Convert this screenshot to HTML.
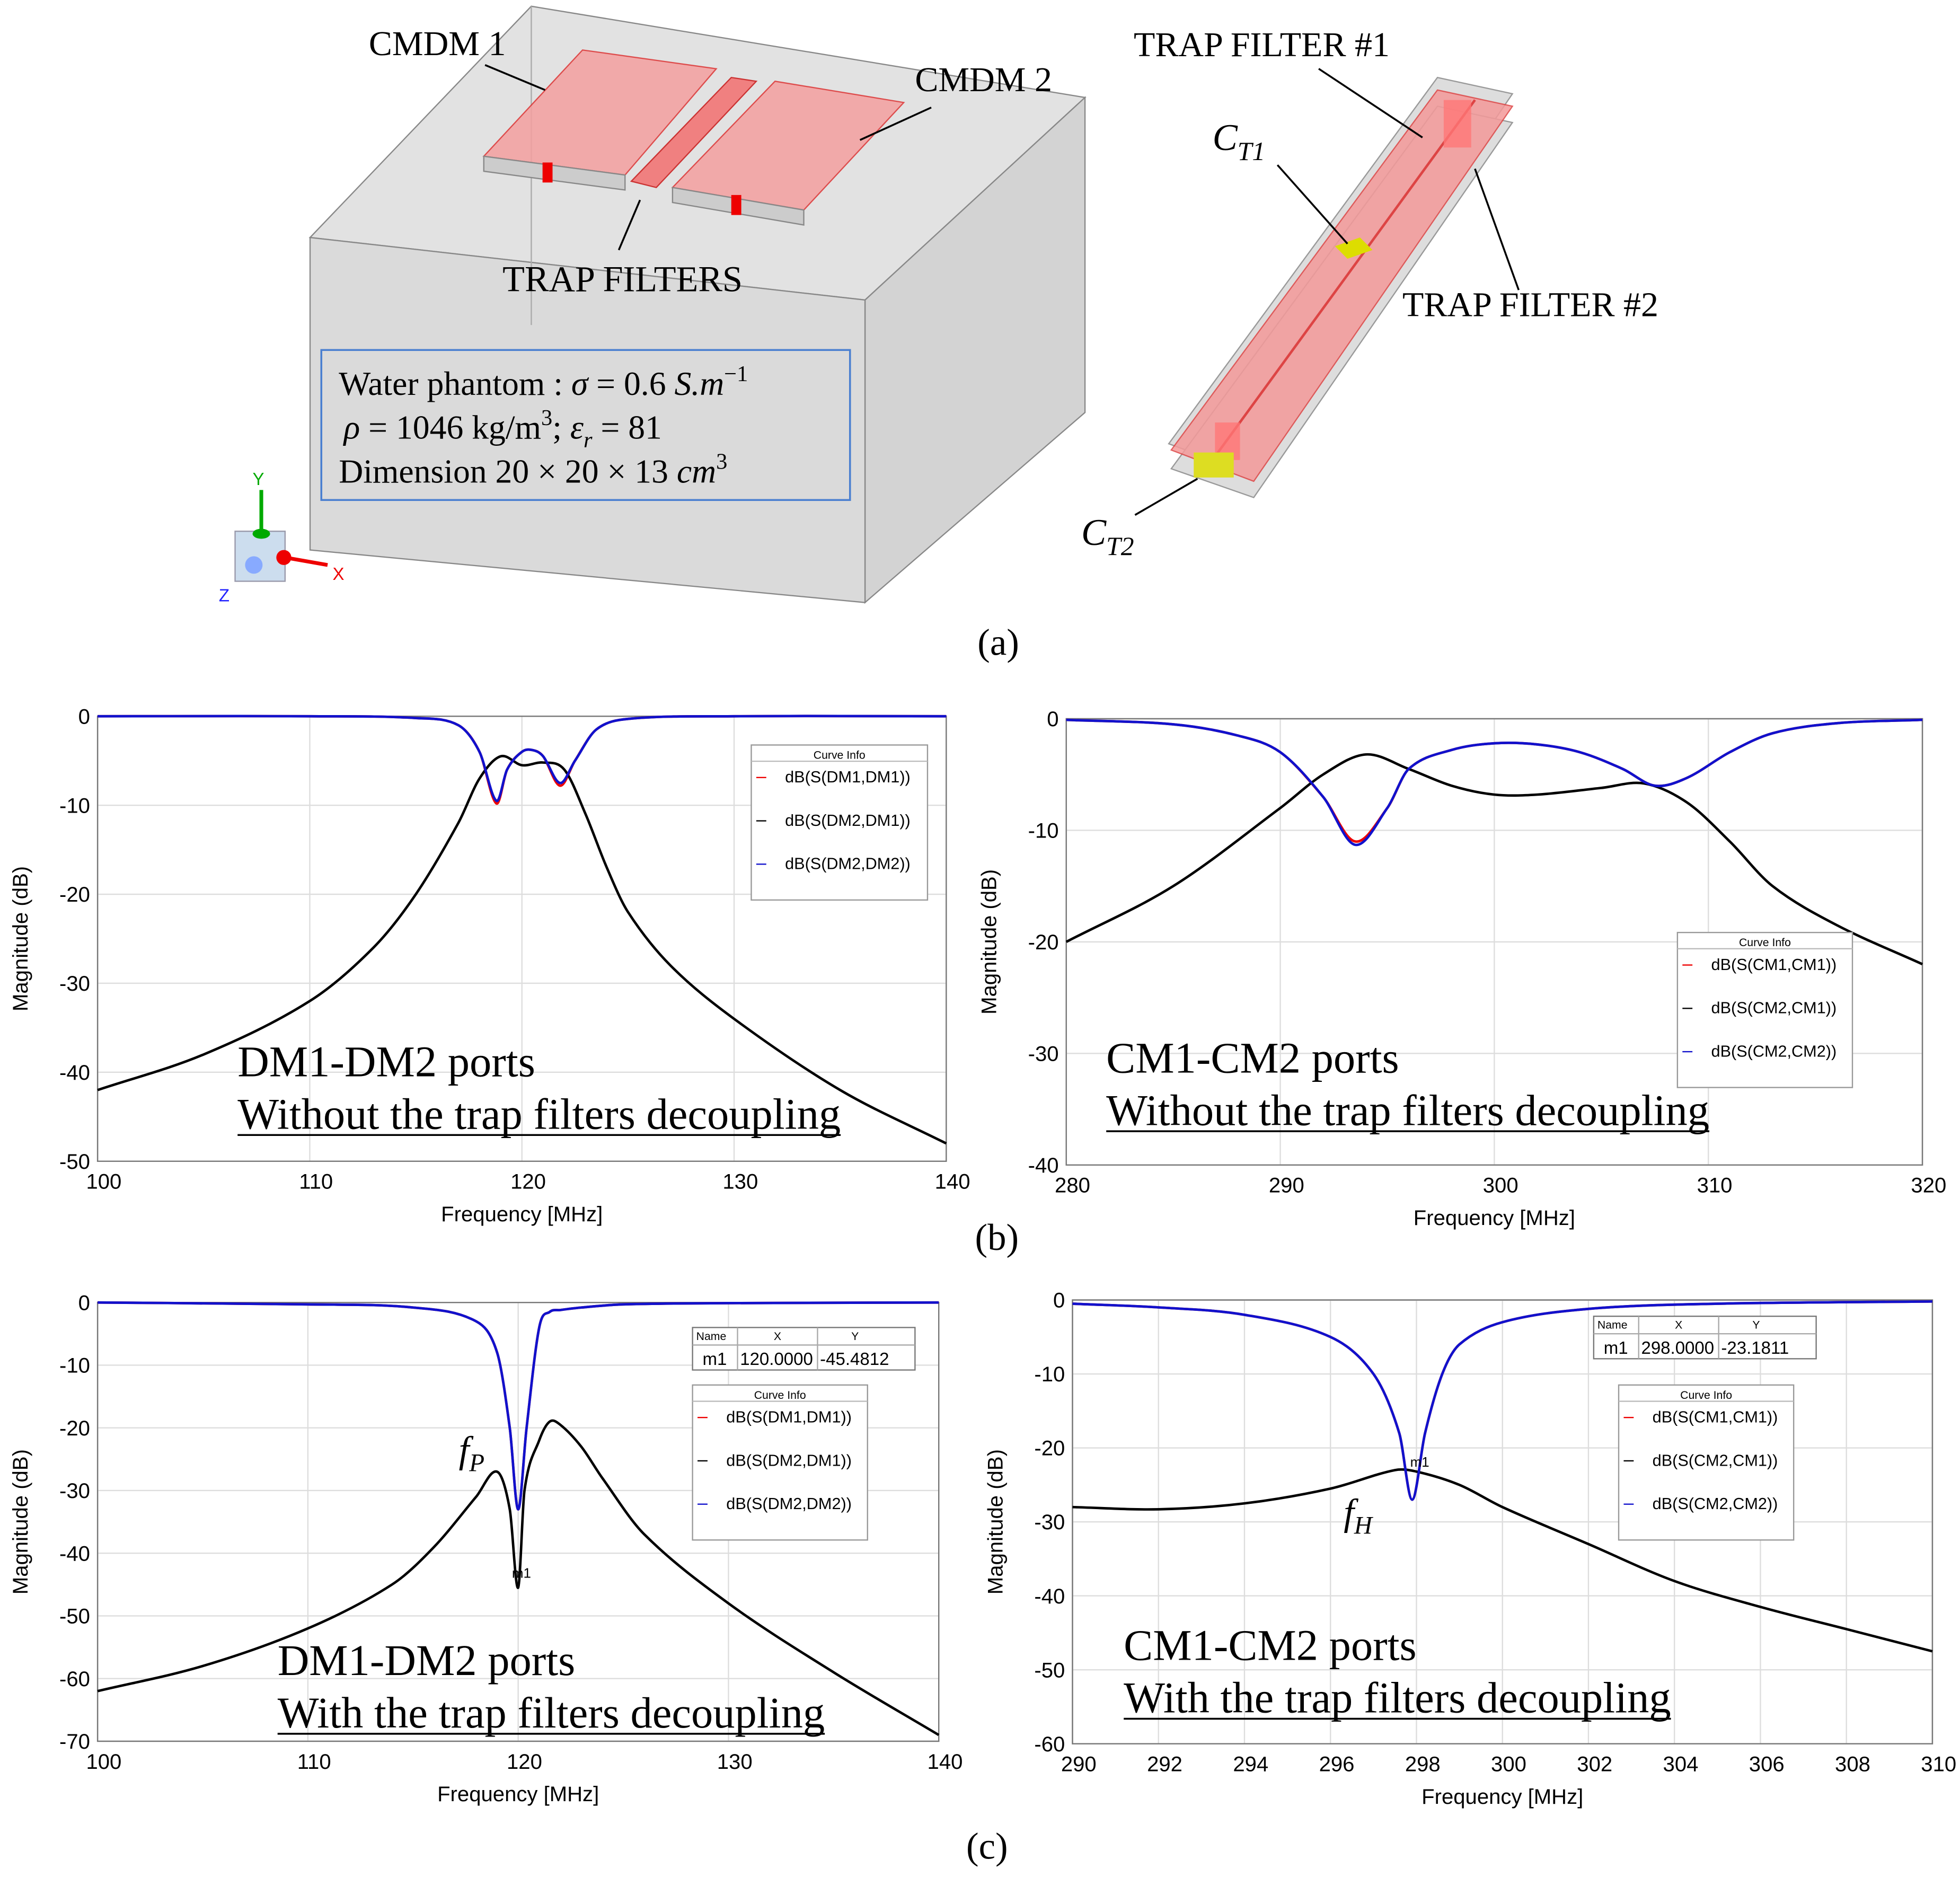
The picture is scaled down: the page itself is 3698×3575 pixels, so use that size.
<!DOCTYPE html>
<html><head><meta charset="utf-8">
<style>
html,body{margin:0;padding:0;background:#fff;}
svg{display:block;}
.tk{font-family:"Liberation Sans",sans-serif;font-size:17px;fill:#000;}
.ser{font-family:"Liberation Serif",serif;fill:#000;}
.lg{font-family:"Liberation Sans",sans-serif;font-size:13px;fill:#000;}
</style></head>
<body>
<svg id="root" width="3698" height="3575" viewBox="0 0 1568 1516" xmlns="http://www.w3.org/2000/svg">
<g>
 <polygon points="248,190 425,5 868,78 692,240" fill="#e2e2e2" stroke="#888"/>
 <polygon points="692,240 868,78 868,330 692,482" fill="#d3d3d3" stroke="#888"/>
 <polygon points="248,190 692,240 692,482 248,440" fill="#dadada" stroke="#888"/>
 <line x1="425" y1="5" x2="425" y2="260" stroke="#aaa"/>
 <polygon points="387,125 466,40 573,55 500,140" fill="#f4a0a0" stroke="#d33" opacity="0.85"/>
 <polygon points="387,125 500,140 500,152 387,137" fill="#ccc" stroke="#888"/>
 <polygon points="538,150 620,65 723,82 643,168" fill="#f4a0a0" stroke="#d33" opacity="0.85"/>
 <polygon points="538,150 643,168 643,180 538,162" fill="#ccc" stroke="#888"/>
 <polygon points="505,145 585,62 605,65 525,150" fill="#f08080" stroke="#c33"/>
 <rect x="434" y="130" width="8" height="16" fill="#e00"/><rect x="585" y="156" width="8" height="16" fill="#e00"/>
 <text x="295" y="44" class="ser" font-size="28">CMDM 1</text>
 <text x="732" y="73" class="ser" font-size="28">CMDM 2</text>
 <text x="402" y="233" class="ser" font-size="29">TRAP FILTERS</text>
 <line x1="388" y1="52" x2="436" y2="72" stroke="#000" stroke-width="1.5"/>
 <line x1="745" y1="86" x2="688" y2="112" stroke="#000" stroke-width="1.5"/>
 <line x1="495" y1="200" x2="512" y2="160" stroke="#000" stroke-width="1.5"/>
 <rect x="257" y="280" width="423" height="120" fill="none" stroke="#4a7fd0" stroke-width="1.5"/>
 <text x="271" y="316" class="ser" font-size="27">Water phantom :  <tspan font-style="italic">σ</tspan> = 0.6 <tspan font-style="italic">S.m</tspan><tspan font-size="18" dy="-11">−1</tspan></text>
 <text x="275" y="351" class="ser" font-size="27"><tspan font-style="italic">ρ</tspan> = 1046 kg/m<tspan font-size="18" dy="-11">3</tspan><tspan dy="11">; </tspan><tspan font-style="italic">ε</tspan><tspan font-size="18" font-style="italic" dy="7">r</tspan><tspan dy="-7"> = 81</tspan></text>
 <text x="271" y="386" class="ser" font-size="27">Dimension 20 × 20 × 13 <tspan font-style="italic">cm</tspan><tspan font-size="18" dy="-11">3</tspan></text>
 <g>
  <rect x="188" y="425" width="40" height="40" fill="#cde" stroke="#99a"/>
  <line x1="209" y1="425" x2="209" y2="392" stroke="#0a0" stroke-width="3"/><text x="202" y="388" font-family="Liberation Sans" font-size="14" fill="#0a0">Y</text>
  <line x1="228" y1="446" x2="262" y2="452" stroke="#e00" stroke-width="3"/><text x="266" y="464" font-family="Liberation Sans" font-size="14" fill="#e00">X</text>
  <circle cx="203" cy="452" r="7" fill="#88aaff"/><circle cx="227" cy="446" r="6" fill="#e00"/><ellipse cx="209" cy="427" rx="7" ry="4" fill="#0a0"/>
  <text x="175" y="481" font-family="Liberation Sans" font-size="14" fill="#22f">Z</text>
 </g>
 <g>
  <polygon points="935,355 1150,62 1210,75 1003,380" fill="#ddd" stroke="#999"/>
  <polygon points="937,375 1150,85 1210,98 1003,398" fill="#ddd" stroke="#999"/>
  <polygon points="937,360 1150,72 1210,85 1003,385" fill="#f49a9a" stroke="#d44" opacity="0.85"/>
  <line x1="970" y1="368" x2="1180" y2="80" stroke="#d44" stroke-width="2"/>
  <rect x="1155" y="80" width="22" height="38" fill="#f77" opacity="0.8"/>
  <rect x="972" y="338" width="20" height="30" fill="#f77" opacity="0.8"/>
  <polygon points="1068,197 1088,190 1098,200 1078,207" fill="#dd0"/>
  <rect x="955" y="362" width="32" height="20" fill="#dd2"/>
 </g>
 <text x="907" y="45" class="ser" font-size="28">TRAP FILTER #1</text>
 <text x="1122" y="253" class="ser" font-size="28">TRAP FILTER #2</text>
 <text x="970" y="120" class="ser" font-size="30" font-style="italic">C<tspan font-size="21" dy="8">T1</tspan></text>
 <text x="865" y="436" class="ser" font-size="30" font-style="italic">C<tspan font-size="21" dy="8">T2</tspan></text>
 <line x1="1055" y1="55" x2="1138" y2="110" stroke="#000" stroke-width="1.5"/>
 <line x1="1215" y1="232" x2="1180" y2="135" stroke="#000" stroke-width="1.5"/>
 <line x1="1022" y1="132" x2="1078" y2="195" stroke="#000" stroke-width="1.5"/>
 <line x1="908" y1="412" x2="958" y2="383" stroke="#000" stroke-width="1.5"/>
 <text x="782" y="524" class="ser" font-size="30">(a)</text>
</g>
<text x="780" y="1000" class="ser" font-size="30">(b)</text>
<text x="773" y="1487" class="ser" font-size="30">(c)</text>
</svg>
<script>
// ---- data ----
const bL_x=[100,105,110,113,115,117,118,119,120,121,122,123,124,125,127,130,135,140];
const bL_s21=[-42,-38,-32,-26,-20,-12,-7,-4.5,-5.5,-5.2,-6,-11,-17,-22,-28,-34,-42,-48];
const bL_sx=[100,110,115,117,118,118.8,119.3,120,120.5,121,121.8,122.5,123.5,125,130,140];
const bL_s11=[0,0,-0.2,-1,-4,-9.8,-6,-4,-3.8,-4.5,-7.8,-5,-1.5,-0.3,0,0];
const bL_s22=[0,0,-0.2,-1,-4,-9.5,-6,-4,-3.8,-4.5,-7.5,-5,-1.5,-0.3,0,0];
const bL_xt=[100,110,120,130,140];const bL_yt=[0,-10,-20,-30,-40,-50];

const bR_x=[280,285,290,292,294,296,298,300,302,305,307,309,311,313,316,320];
const bR_s21=[-20,-15,-8,-5,-3.2,-4.5,-6,-6.8,-6.8,-6.2,-5.8,-7.5,-11,-15,-18.5,-22];
const bR_sx=[280,285,288,290,292,293.5,295,296,298,300,302,304,306,307.5,309,311,313,316,320];
const bR_s11=[-0.1,-0.5,-1.5,-3,-7,-11,-8,-4.5,-2.8,-2.2,-2.3,-3,-4.5,-6,-5.3,-3,-1.3,-0.4,-0.1];
const bR_s22=[-0.1,-0.5,-1.5,-3,-7,-11.3,-8,-4.5,-2.8,-2.2,-2.3,-3,-4.5,-6,-5.3,-3,-1.3,-0.4,-0.1];
const bR_xt=[280,290,300,310,320];const bR_yt=[0,-10,-20,-30,-40];

const cL_x=[100,105,110,114,116,118,119,119.6,120,120.3,121,121.5,122,123,124,126,130,135,140];
const cL_s21=[-62,-58,-52,-45,-39,-31,-27,-33,-45.5,-30,-22,-19,-19.5,-23,-28,-37,-48,-59,-69];
const cL_sx=[100,110,115,118,119,119.6,120,120.4,121,121.5,122,123,125,130,140];
const cL_s11=[0,-0.3,-0.8,-3,-8,-20,-33,-20,-4,-1.5,-1.2,-0.8,-0.3,-0.1,0];
const cL_xt=[100,110,120,130,140];const cL_yt=[0,-10,-20,-30,-40,-50,-60,-70];

const cR_x=[290,292,294,296,297.5,298,299,300,302,304,306,308,310];
const cR_s21=[-28,-28.3,-27.5,-25.5,-23,-23.2,-25,-28,-33,-38,-41.5,-44.5,-47.5];
const cR_sx=[290,292,294,296,297,297.6,297.9,298.2,298.6,299,300,302,305,310];
const cR_s11=[-0.5,-1,-2,-5,-10,-18,-27,-18,-10,-6,-3,-1.2,-0.5,-0.2];
const cR_xt=[290,292,294,296,298,300,302,304,306,308,310];const cR_yt=[0,-10,-20,-30,-40,-50,-60];

const NS="http://www.w3.org/2000/svg";
const root=document.getElementById('root');
function mk(tag,attrs,parent){const e=document.createElementNS(NS,tag);for(const k in attrs)e.setAttribute(k,attrs[k]);parent.appendChild(e);return e;}
function path(xs,ys,sx,sy){const p=xs.map((x,i)=>[sx(x),sy(ys[i])]);const n=p.length;
 const m=p.map((q,i)=>{const a=p[Math.max(0,i-1)],b=p[Math.min(n-1,i+1)];return (b[1]-a[1])/((b[0]-a[0])||1);});
 let d='M'+p[0][0]+','+p[0][1];
 for(let i=0;i<n-1;i++){const h=p[i+1][0]-p[i][0];
  d+=' C'+(p[i][0]+h/3)+','+(p[i][1]+m[i]*h/3)+' '+(p[i+1][0]-h/3)+','+(p[i+1][1]-m[i+1]*h/3)+' '+p[i+1][0]+','+p[i+1][1];}
 return d;}
function chart(o){
 const g=mk('g',{},root);
 
 
 const x0=o.box[0],y0=o.box[1],x1=o.box[2],y1=o.box[3];
 const sx=v=>x0+(v-o.xt[0])/(o.xt[o.xt.length-1]-o.xt[0])*(x1-x0);
 const sy=v=>y0+(o.yt[0]-v)/(o.yt[0]-o.yt[o.yt.length-1])*(y1-y0);
 mk('rect',{x:x0,y:y0,width:x1-x0,height:y1-y0,fill:'#fff',stroke:'#888','stroke-width':1},g);
 o.xt.forEach(v=>{mk('line',{x1:sx(v),x2:sx(v),y1:y0,y2:y1,stroke:'#ddd'},g);
  const t=mk('text',{x:sx(v)+5,y:y1+22,'text-anchor':'middle',class:'tk'},g);t.textContent=v;
  
  });
 o.yt.forEach(v=>{mk('line',{x1:x0,x2:x1,y1:sy(v),y2:sy(v),stroke:'#ddd'},g);
  const t=mk('text',{x:x0-6,y:sy(v)+6,'text-anchor':'end',class:'tk'},g);t.textContent=v;
  
  });
 mk('rect',{x:x0,y:y0,width:x1-x0,height:y1-y0,fill:'none',stroke:'#777','stroke-width':1},g);
 const xt=mk('text',{x:(x0+x1)/2,y:y1+48,'text-anchor':'middle',class:'tk'},g);xt.textContent='Frequency [MHz]';
 
 
 const yt=mk('text',{x:0,y:0,'text-anchor':'middle',class:'tk',transform:'translate('+(x0-56)+','+((y0+y1)/2)+') rotate(-90)'},g);yt.textContent='Magnitude (dB)';
 
 
 const s1=mk('path',{d:path(o.sx,o.s11,sx,sy),fill:'none',stroke:'#e00','stroke-width':2},g);
 
 
 const s2=mk('path',{d:path(o.x,o.s21,sx,sy),fill:'none',stroke:'#000','stroke-width':2},g);
 
 
 const s3=mk('path',{d:path(o.sx,o.s22,sx,sy),fill:'none',stroke:'#11c','stroke-width':2},g);
 
 
 const L=o.leg;const lg=mk('g',{},g);
 
 
 mk('rect',{x:L[0],y:L[1],width:L[2],height:L[3],fill:'#fff',stroke:'#999'},lg);
 mk('line',{x1:L[0],x2:L[0]+L[2],y1:L[1]+13,y2:L[1]+13,stroke:'#bbb'},lg);
 const ht=mk('text',{x:L[0]+L[2]/2,y:L[1]+11,'text-anchor':'middle',class:'lg'},lg);ht.textContent='Curve Info';ht.style.fontSize='9px';
 const cols=['#e00','#000','#11c'];
 o.names.forEach((n,i)=>{const yy=L[1]+30+i*(L[3]-20)/3;
  mk('line',{x1:L[0]+4,x2:L[0]+12,y1:yy-4,y2:yy-4,stroke:cols[i]},lg);
  const t=mk('text',{x:L[0]+27,y:yy,class:'lg'},lg);t.textContent=n;
  
  });
 const a=mk('text',{x:o.ov[0],y:o.ov[1],class:'ser','font-size':35},g);a.textContent=o.ov[2];
 
 
 const b=mk('text',{x:o.ov[0],y:o.ov[1]+42,class:'ser','font-size':35},g);b.textContent=o.ov[3];
 
 
 const bb=b.getBBox();mk('line',{x1:bb.x,x2:bb.x+bb.width,y1:o.ov[1]+47,y2:o.ov[1]+47,stroke:'#000','stroke-width':1.5},g);
 if(o.mk){const M=o.mk;const mg=mk('g',{},g);
  
  
  mk('rect',{x:M[0],y:M[1],width:178,height:34,fill:'#fff',stroke:'#777'},mg);
  mk('line',{x1:M[0],x2:M[0]+178,y1:M[1]+14,y2:M[1]+14,stroke:'#aaa'},mg);
  [36,100].forEach(dx=>mk('line',{x1:M[0]+dx,x2:M[0]+dx,y1:M[1],y2:M[1]+34,stroke:'#aaa'},mg));
  [['Name',3,10,9],['X',68,10,9],['Y',130,10,9],['m1',8,30,14],[M[2],38,30,14],[M[3],102,30,14]].forEach(r=>{
   const t=mk('text',{x:M[0]+r[1],y:M[1]+r[2],'text-anchor':r[1]==68||r[1]==130?'middle':'start',class:'lg'},mg);t.style.fontSize=r[3]+'px';t.textContent=r[0];});
  const mt=mk('text',{x:sx(M[4])-5,y:sy(M[5])+(M[6]||0),class:'lg'},g);mt.style.fontSize='11px';mt.textContent='m1';}
 if(o.f){const f=mk('text',{x:o.f[0],y:o.f[1],class:'ser','font-size':30,'font-style':'italic'},g);
  
  
  f.innerHTML='f<tspan font-size="20" dy="7">'+o.f[2]+'</tspan>';}
}
chart({name:'chart-dm-without-trap',box:[78,573,757,929],xt:bL_xt,yt:bL_yt,x:bL_x,s21:bL_s21,sx:bL_sx,s11:bL_s11,s22:bL_s22,
 leg:[601,596,141,124],names:['dB(S(DM1,DM1))','dB(S(DM2,DM1))','dB(S(DM2,DM2))'],ov:[190,861,'DM1-DM2 ports','Without the trap filters decoupling']});
chart({name:'chart-cm-without-trap',box:[853,575,1538,932],xt:bR_xt,yt:bR_yt,x:bR_x,s21:bR_s21,sx:bR_sx,s11:bR_s11,s22:bR_s22,
 leg:[1342,746,140,124],names:['dB(S(CM1,CM1))','dB(S(CM2,CM1))','dB(S(CM2,CM2))'],ov:[885,858,'CM1-CM2 ports','Without the trap filters decoupling']});
chart({name:'chart-dm-with-trap',box:[78,1042,751,1393],xt:cL_xt,yt:cL_yt,x:cL_x,s21:cL_s21,sx:cL_sx,s11:cL_s11,s22:cL_s11,
 leg:[554,1108,140,124],names:['dB(S(DM1,DM1))','dB(S(DM2,DM1))','dB(S(DM2,DM2))'],ov:[222,1340,'DM1-DM2 ports','With the trap filters decoupling'],
 mk:[554,1062,'120.0000','-45.4812',120,-45.5,-8],f:[367,1170,'P']});
chart({name:'chart-cm-with-trap',box:[858,1040,1546,1395],xt:cR_xt,yt:cR_yt,x:cR_x,s21:cR_s21,sx:cR_sx,s11:cR_s11,s22:cR_s11,
 leg:[1295,1108,140,124],names:['dB(S(CM1,CM1))','dB(S(CM2,CM1))','dB(S(CM2,CM2))'],ov:[899,1328,'CM1-CM2 ports','With the trap filters decoupling'],
 mk:[1275,1053,'298.0000','-23.1811',298,-23.2,-4],f:[1075,1220,'H']});
</script>
</body></html>
